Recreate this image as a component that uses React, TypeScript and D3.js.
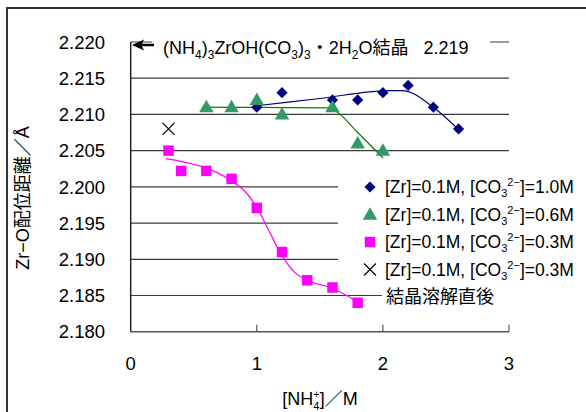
import React, { useEffect, useRef } from 'react';
import * as d3 from 'd3';

// measured points
const diamondX = [1.0, 1.2, 1.6, 1.8, 2.0, 2.2, 2.4, 2.6];
const diamondY = [2.211, 2.213, 2.212, 2.212, 2.213, 2.214, 2.211, 2.208];

const triangleX = [0.6, 0.8, 1.0, 1.2, 1.6, 1.8, 2.0];
const triangleY = [2.211, 2.211, 2.212, 2.210, 2.211, 2.206, 2.205];

const squareX = [0.3, 0.4, 0.6, 0.8, 1.0, 1.2, 1.4, 1.6, 1.8];
const squareY = [2.205, 2.2022, 2.2022, 2.2011, 2.1971, 2.191, 2.1871, 2.1861, 2.184];

const crossX = [0.3];
const crossY = [2.208];

// hand drawn trend lines
const blueFitX = [1.0, 1.5, 2.05, 2.15, 2.4, 2.6];
const blueFitY = [2.2112, 2.2122, 2.2133, 2.2133, 2.2110, 2.2079];

const greenFitX = [0.57, 1.55, 1.63, 1.8, 2.0];
const greenFitY = [2.2110, 2.2109, 2.2104, 2.2075, 2.2040];

const pinkFitX = [0.28, 0.8, 0.9, 1.0, 1.1, 1.2, 1.3, 1.4, 1.6, 1.8];
const pinkFitY = [2.2039, 2.2008, 2.1995, 2.1972, 2.1938, 2.1905, 2.1882, 2.1871, 2.1860, 2.1841];

const yTicks = [2.180, 2.185, 2.190, 2.195, 2.200, 2.205, 2.210, 2.215, 2.220];
const xTicks = [0, 1, 2, 3];

const legendValues = ['1.0', '0.6', '0.3', '0.3'];

const W = 586;
const H = 412;
const font = '"Liberation Sans", Arial, "Noto Sans CJK JP", sans-serif';
const jpFont = '"Liberation Sans", "Noto Sans CJK JP", sans-serif';

const x = d3.scaleLinear().domain([0, 3]).range([130.7, 509]);
const y = d3.scaleLinear().domain([2.18, 2.22]).range([331.7, 42]);

const zip = (xs: number[], ys: number[]) => xs.map((v, i) => [v, ys[i]] as [number, number]);

function App() {
    const ref = useRef<SVGSVGElement>(null);

    useEffect(() => {
        const svg = d3.select(ref.current);
        svg.selectAll('*').remove();

        // outer frame
        svg.append('path')
            .attr('d', `M7,${H} V8 H${W}`)
            .attr('fill', 'none')
            .attr('stroke', '#333')
            .attr('stroke-width', 2);

        // grid
        svg.selectAll('.grid')
            .data(yTicks.slice(1))
            .enter()
            .append('line')
            .attr('x1', x(0))
            .attr('x2', x(3))
            .attr('y1', (d) => y(d))
            .attr('y2', (d) => y(d))
            .attr('stroke', '#3a3a3a')
            .attr('stroke-width', 1.2);

        // axes
        svg.append('line')
            .attr('x1', x(0)).attr('x2', x(0))
            .attr('y1', y(2.22)).attr('y2', y(2.18))
            .attr('stroke', '#222').attr('stroke-width', 1.5);
        svg.append('line')
            .attr('x1', x(0)).attr('x2', x(3))
            .attr('y1', y(2.18)).attr('y2', y(2.18))
            .attr('stroke', '#555').attr('stroke-width', 1.5);
        svg.selectAll('.xtick')
            .data(xTicks.slice(1))
            .enter()
            .append('line')
            .attr('x1', (d) => x(d)).attr('x2', (d) => x(d))
            .attr('y1', y(2.18)).attr('y2', y(2.18) - 7)
            .attr('stroke', '#555').attr('stroke-width', 1.2);

        svg.selectAll('.ylab')
            .data(yTicks)
            .enter()
            .append('text')
            .attr('x', 105)
            .attr('y', (d) => y(d))
            .attr('dy', '0.36em')
            .attr('text-anchor', 'end')
            .style('font-family', font)
            .style('font-size', '18.5px')
            .text((d) => d.toFixed(3));

        svg.selectAll('.xlab')
            .data(xTicks)
            .enter()
            .append('text')
            .attr('x', (d) => x(d))
            .attr('y', 363)
            .attr('dy', '0.36em')
            .attr('text-anchor', 'middle')
            .style('font-family', font)
            .style('font-size', '18.5px')
            .text((d) => d);

        // axis titles
        const xt = svg.append('text')
            .attr('x', 320).attr('y', 405)
            .attr('text-anchor', 'middle')
            .style('font-family', jpFont)
            .style('font-size', '18px');
        xt.append('tspan').text('[NH');
        xt.append('tspan').attr('dy', 5).style('font-size', '11px').text('4');
        xt.append('tspan').attr('dy', -12).attr('dx', -6).style('font-size', '11px').text('+');
        xt.append('tspan').attr('dy', 7).text(']／M');

        svg.append('text')
            .attr('transform', 'translate(29,198) rotate(-90)')
            .attr('text-anchor', 'middle')
            .style('font-family', jpFont)
            .style('font-size', '18px')
            .text('Zr−O配位距離／Å');

        // annotation at top
        svg.append('rect')
            .attr('x', 152).attr('y', 32).attr('width', 338).attr('height', 28)
            .attr('fill', '#fff');
        svg.append('line')
            .attr('x1', 140).attr('x2', 154)
            .attr('y1', 45).attr('y2', 45)
            .attr('stroke', '#000').attr('stroke-width', 2.5);
        svg.append('path')
            .attr('d', 'M132,45 L144,39.5 L141.5,45 L144,50.5 Z')
            .attr('fill', '#000');
        const ann = svg.append('text')
            .attr('x', 163).attr('y', 54)
            .style('font-family', jpFont)
            .style('font-size', '18px');
        ann.append('tspan').text('(NH');
        ann.append('tspan').attr('dy', 5).style('font-size', '12px').text('4');
        ann.append('tspan').attr('dy', -5).text(')');
        ann.append('tspan').attr('dy', 5).style('font-size', '12px').text('3');
        ann.append('tspan').attr('dy', -5).text('ZrOH(CO');
        ann.append('tspan').attr('dy', 5).style('font-size', '12px').text('3');
        ann.append('tspan').attr('dy', -5).text(')');
        ann.append('tspan').attr('dy', 5).style('font-size', '12px').text('3');
        ann.append('tspan').attr('dy', -5).text('・2H');
        ann.append('tspan').attr('dy', 5).style('font-size', '12px').text('2');
        ann.append('tspan').attr('dy', -5).text('O結晶\u00a0\u00a0 2.219');

        // trend lines
        const line = d3.line<[number, number]>()
            .x((d) => x(d[0]))
            .y((d) => y(d[1]))
            .curve(d3.curveMonotoneX);

        const fits = [
            { pts: zip(blueFitX, blueFitY), color: '#000080' },
            { pts: zip(greenFitX, greenFitY), color: '#008000' },
            { pts: zip(pinkFitX, pinkFitY), color: '#ff00ff' },
        ];
        fits.forEach((f) => {
            svg.append('path')
                .attr('d', line(f.pts))
                .attr('fill', 'none')
                .attr('stroke', f.color)
                .attr('stroke-width', 1.2);
        });

        // markers
        const diamond = d3.symbol().type(d3.symbolDiamond2).size(80);
        const triangle = d3.symbol().type(d3.symbolTriangle).size(90);
        const square = d3.symbol().type(d3.symbolSquare).size(110);

        svg.selectAll('.dia')
            .data(zip(diamondX, diamondY))
            .enter()
            .append('path')
            .attr('d', diamond())
            .attr('transform', (d) => `translate(${x(d[0])},${y(d[1])})`)
            .attr('fill', '#000080');

        svg.selectAll('.tri')
            .data(zip(triangleX, triangleY))
            .enter()
            .append('path')
            .attr('d', triangle())
            .attr('transform', (d) => `translate(${x(d[0])},${y(d[1]) + 1})`)
            .attr('fill', '#339966');

        svg.selectAll('.sq')
            .data(zip(squareX, squareY))
            .enter()
            .append('path')
            .attr('d', square())
            .attr('transform', (d) => `translate(${x(d[0])},${y(d[1])})`)
            .attr('fill', '#ff00ff');

        const cross = (cx: number, cy: number, r: number) =>
            `M${cx - r},${cy - r} L${cx + r},${cy + r} M${cx - r},${cy + r} L${cx + r},${cy - r}`;

        svg.selectAll('.cr')
            .data(zip(crossX, crossY))
            .enter()
            .append('path')
            .attr('d', (d) => cross(x(d[0]), y(d[1]), 6))
            .attr('stroke', '#000')
            .attr('stroke-width', 1.2)
            .attr('fill', 'none');

        // legend
        svg.append('rect')
            .attr('x', 338).attr('y', 172).attr('width', W - 338).attr('height', 112)
            .attr('fill', '#fff');
        svg.append('rect')
            .attr('x', 382).attr('y', 284).attr('width', W - 382).attr('height', 26)
            .attr('fill', '#fff');

        const rowY = [187, 214.5, 242, 269.5];
        const lx = 370;
        svg.append('path').attr('d', diamond()).attr('transform', `translate(${lx},${rowY[0]})`).attr('fill', '#000080');
        svg.append('path').attr('d', triangle()).attr('transform', `translate(${lx},${rowY[1] + 1})`).attr('fill', '#339966');
        svg.append('path').attr('d', square()).attr('transform', `translate(${lx},${rowY[2]})`).attr('fill', '#ff00ff');
        svg.append('path').attr('d', cross(lx, rowY[3], 6)).attr('stroke', '#000').attr('stroke-width', 1.2).attr('fill', 'none');

        legendValues.forEach((v, i) => {
            const t = svg.append('text')
                .attr('x', 385).attr('y', rowY[i] + 6)
                .style('font-family', font)
                .style('font-size', '17.5px');
            t.append('tspan').text('[Zr]=0.1M, [CO');
            t.append('tspan').attr('dy', 4).style('font-size', '11px').text('3');
            t.append('tspan').attr('dy', -11).style('font-size', '11px').text('2−');
            t.append('tspan').attr('dy', 7).text(`]=${v}M`);
        });

        svg.append('text')
            .attr('x', 386).attr('y', 303)
            .style('font-family', jpFont)
            .style('font-size', '18px')
            .text('結晶溶解直後');
    }, []);

    return (
        <svg ref={ref} width={W} height={H}
            style={{ position: 'absolute', left: 0, top: 0, background: '#fff' }} />
    );
}

export default App;
